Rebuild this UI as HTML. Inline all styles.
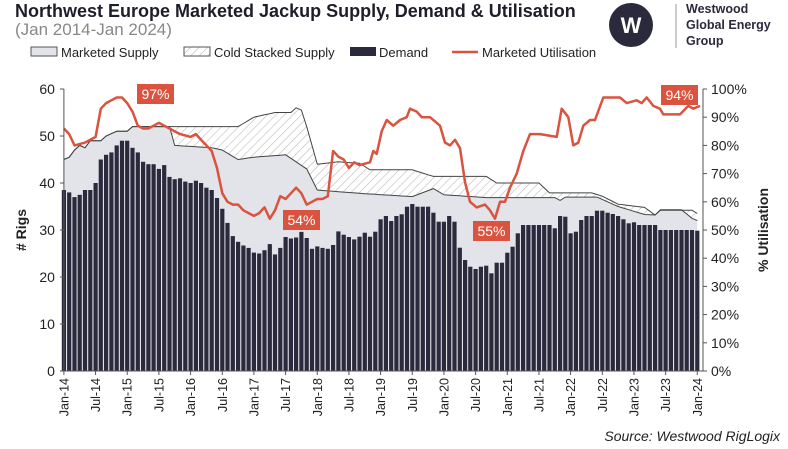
<!DOCTYPE html><html><head><meta charset="utf-8"><style>
body{margin:0;background:#fff;width:788px;height:444px;overflow:hidden;font-family:"Liberation Sans",sans-serif}
</style></head><body>
<svg id="s" width="788" height="444" xmlns="http://www.w3.org/2000/svg" font-family="Liberation Sans, sans-serif">
<defs><pattern id="h" width="6" height="6" patternUnits="userSpaceOnUse" patternTransform="rotate(45)"><rect width="6" height="6" fill="#fff"/><line x1="0" y1="0" x2="0" y2="6" stroke="#bbb" stroke-width="1.2"/></pattern></defs>
<text x="15" y="17" font-size="18" font-weight="bold" fill="#1e1e2a">Northwest Europe Marketed Jackup Supply, Demand &amp; Utilisation</text>
<text x="15" y="35" font-size="17" fill="#888">(Jan 2014-Jan 2024)</text>
<circle cx="631" cy="25" r="22" fill="#2b2a3d"/>
<text x="631" y="33" font-size="22" font-weight="bold" fill="#fff" text-anchor="middle">W</text>
<line x1="676" y1="4" x2="676" y2="48" stroke="#999" stroke-width="1"/>
<text font-size="12.5" font-weight="bold" fill="#2b2a3d"><tspan x="686" y="13">Westwood</tspan><tspan x="686" y="29">Global Energy</tspan><tspan x="686" y="45">Group</tspan></text>
<rect x="31" y="47" width="26" height="9" fill="#e3e3ea" stroke="#555" stroke-width="1"/>
<text x="61" y="57" font-size="13" fill="#222">Marketed Supply</text>
<rect x="184" y="47" width="26" height="9" fill="url(#h)" stroke="#555" stroke-width="1"/>
<text x="214" y="57" font-size="13" fill="#222">Cold Stacked Supply</text>
<rect x="350" y="47" width="26" height="9" fill="#2b2a3d"/>
<text x="379" y="57" font-size="13" fill="#222">Demand</text>
<line x1="452" y1="52" x2="478" y2="52" stroke="#d9533f" stroke-width="2.5"/>
<text x="482" y="57" font-size="13" fill="#222">Marketed Utilisation</text>
<g id="g"></g>
<text x="26" y="230" font-size="14" font-weight="bold" fill="#222" transform="rotate(-90 26 230)" text-anchor="middle"># Rigs</text>
<text x="768" y="230" font-size="14" font-weight="bold" fill="#222" transform="rotate(-90 768 230)" text-anchor="middle">% Utilisation</text>
<text x="780" y="441" font-size="14" font-style="italic" fill="#222" text-anchor="end">Source: Westwood RigLogix</text>
</svg>
<script>
var X0=63.9,DX=31.67/6,Y0=371,YS=282/60,PS=2.82;
function x(m){return X0+m*DX}
function yv(v){return Y0-v*YS}
function yp(p){return Y0-p*PS}
function interp(pts,m){for(var i=0;i<pts.length-1;i++){if(m>=pts[i][0]&&m<=pts[i+1][0]){var t=(m-pts[i][0])/(pts[i+1][0]-pts[i][0]||1);return pts[i][1]+t*(pts[i+1][1]-pts[i][1]);}}return pts[pts.length-1][1];}
var dem=[38.5,38,37,37.5,38.5,38.5,40,45,46,46.5,48,49,49,47.5,46.5,44.5,44,44,43,43.8,41.3,40.8,41,40.3,40,40.5,40,39,38.5,36.8,34.5,31.5,28.7,27.5,26.7,26.2,25.2,25,25.7,27,24.8,26.2,28.5,28.2,28.4,29.6,28.3,26,26.5,26.2,26,26.8,29.7,29,28.5,28];
var z=[470,458,470,455,418,408,423,408,403,380,372,380,380,380,398,425,425,408,425,503,540,560,567,560,557,580,548,548,518,500,460,435,435,435,435,435,435,445,408,410,460,455,420,408,408,392,392,398,402,408,418,430,427,435,435,435,435,450,450,450,450,450,450,450,452];
z.forEach(function(v){dem.push((371-(v/3+80))/4.7)});
var lo=[[0,45],[1,45.5],[2,47],[3,48],[4,47.5],[5,49],[7,49],[8,50],[9,50.5],[10,51],[12,51],[13,52],[20,52],[21,48],[28,47.5],[30,47],[33,45],[36,45.5],[42,46],[44,44.5],[46,43],[48,38.5],[56,37.8],[66,37.1],[70,38.8],[72,37.5],[80,36.9],[93,36.9],[94,36.3],[95,37],[101,37],[105,35],[110,33.3],[112,33.2],[113,34.3],[117,34.3],[119,32.5],[120,32]];
var hi=[[0,45],[1,45.5],[2,47],[3,48],[4,47.5],[5,49],[7,49],[8,50],[9,50.5],[10,51],[12,51],[13,52],[33,52],[36,54],[40,55],[43,55],[44,56],[45,55.5],[46,52],[48,44],[52,44.5],[56,44.2],[58,42.8],[66,42.8],[70,41.4],[80,41.4],[82,40],[90,40],[92,37.9],[100,37.9],[102,37.2],[105,35.5],[110,34.8],[112,33.2],[113,34.2],[119,34.2],[120,33.5]];
var ut=[[0,86],[1,84],[2,80],[4,81],[6,83],[7,93],[8,95],[9,96],[10,97],[11,97],[12,95],[13,92],[14,87],[15,86],[16,86],[17,87],[18,88],[19,87],[20,86],[21,85],[22,84],[24,83],[25,84],[26,82],[27,80],[28,78],[29,72],[30,63],[31,60],[32,59],[33,59],[34,57],[35,56],[36,55],[37,56],[38,58],[39,54],[40,57],[41,62],[42,61],[43,63],[44,65],[45,63],[46,59],[47,60],[48,61],[49,61],[50,62],[51,78],[52,76],[53,75],[54,72],[55,74],[56,73]];
var u3=[[0,74],[30,74],[40,78],[50,77],[65,85],[80,89],[100,87],[120,89],[140,90],[150,93],[170,92],[185,90],[210,90],[240,87],[255,81],[270,80],[285,82],[300,79],[315,67],[330,60],[350,58],[375,59],[390,57],[405,54],[420,60],[435,60],[450,65],[470,70],[490,78],[510,84],[540,84],[590,83],[605,93],[625,90],[640,80],[655,81],[670,87],[690,89],[705,89],[730,97],[780,97],[800,95],[830,96],[845,95],[860,97],[880,94],[900,93],[910,91],[960,91],[985,94],[1000,93],[1020,94]];
u3.forEach(function(p){var m=((p[0]/3+360)-X0)/DX;if(m>56.5)ut.push([m,p[1]])});
var s='';
var pl='M'+x(0)+','+Y0;
for(var m=0;m<=120;m++){pl+=' L'+x(m).toFixed(1)+','+yv(interp(lo,m)).toFixed(1)}
pl+=' L'+x(120)+','+Y0+'Z';
s+='<path d="'+pl+'" fill="#e3e3ea"/>';
var hp='M'+x(0)+','+yv(45);
for(m=0;m<=120;m++)hp+=' L'+x(m).toFixed(1)+','+yv(interp(hi,m)).toFixed(1);
for(m=120;m>=0;m--)hp+=' L'+x(m).toFixed(1)+','+yv(interp(lo,m)).toFixed(1);
s+='<path d="'+hp+'Z" fill="url(#h)"/>';
var l1='',l2='';
for(m=0;m<=120;m++){l1+=(m?' L':'M')+x(m).toFixed(1)+','+yv(interp(lo,m)).toFixed(1);l2+=(m?' L':'M')+x(m).toFixed(1)+','+yv(interp(hi,m)).toFixed(1);}
s+='<path d="'+l1+'" fill="none" stroke="#444" stroke-width="1"/><path d="'+l2+'" fill="none" stroke="#444" stroke-width="1"/>';
for(m=0;m<=120&&m<dem.length;m++){var v=dem[m];s+='<rect x="'+(x(m)-2.1).toFixed(1)+'" y="'+yv(v).toFixed(1)+'" width="4.2" height="'+(v*YS).toFixed(1)+'" fill="#2b2a3d"/>';}
var ul='';
ut.forEach(function(p,i){ul+=(i?' L':'M')+x(p[0]).toFixed(1)+','+yp(p[1]).toFixed(1)});
s+='<path d="'+ul+'" fill="none" stroke="#d9533f" stroke-width="2.5" stroke-linejoin="round"/>';
s+='<line x1="'+X0+'" y1="89" x2="'+X0+'" y2="371" stroke="#555"/><line x1="703" y1="89" x2="703" y2="371" stroke="#555"/><line x1="'+X0+'" y1="371" x2="703" y2="371" stroke="#555"/>';
for(var i=0;i<=6;i++){var yy=yv(i*10);s+='<line x1="'+(X0-4)+'" y1="'+yy+'" x2="'+X0+'" y2="'+yy+'" stroke="#555"/><text x="'+(X0-9)+'" y="'+(yy+5)+'" font-size="14" text-anchor="end" fill="#222">'+(i*10)+'</text>';}
for(i=0;i<=10;i++){var yy=yp(i*10);s+='<line x1="703" y1="'+yy+'" x2="707" y2="'+yy+'" stroke="#555"/><text x="711" y="'+(yy+5)+'" font-size="14" fill="#222">'+(i*10)+'%</text>';}
var lab=['Jan-14','Jul-14','Jan-15','Jul-15','Jan-16','Jul-16','Jan-17','Jul-17','Jan-18','Jul-18','Jan-19','Jul-19','Jan-20','Jul-20','Jan-21','Jul-21','Jan-22','Jul-22','Jan-23','Jul-23','Jan-24'];
lab.forEach(function(t,i){var xx=X0+i*31.67;s+='<line x1="'+xx+'" y1="371" x2="'+xx+'" y2="375" stroke="#555"/><text x="'+(xx+4.5)+'" y="378" font-size="12.5" fill="#222" text-anchor="end" transform="rotate(-90 '+(xx+4.5)+' 378)">'+t+'</text>';});
[[137,84,'97%'],[283,210,'54%'],[473,221,'55%'],[661,85,'94%']].forEach(function(b){s+='<rect x="'+b[0]+'" y="'+b[1]+'" width="37" height="20" fill="#d9533f"/><text x="'+(b[0]+18.5)+'" y="'+(b[1]+15)+'" font-size="14" fill="#fff" text-anchor="middle">'+b[2]+'</text>';});
document.getElementById('g').innerHTML=s;
</script>
</body></html>
